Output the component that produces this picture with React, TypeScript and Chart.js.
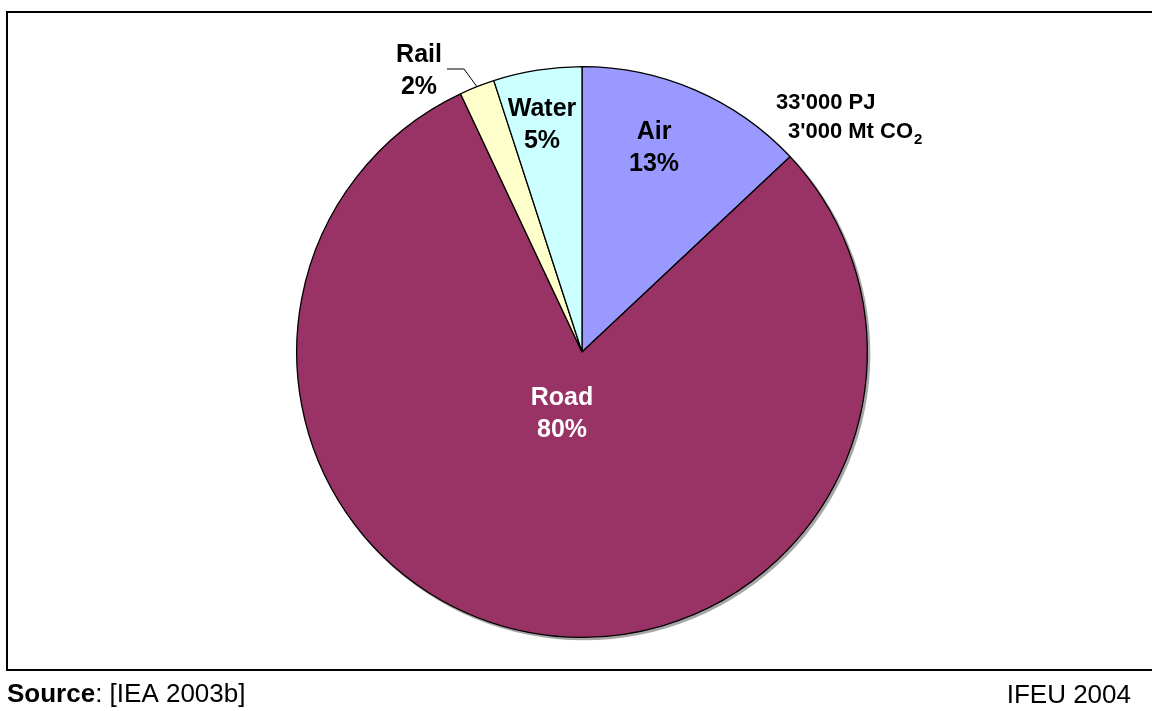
import React, { useEffect, useRef } from "react";
import { Chart, registerables } from "chart.js";
Chart.register(...registerables);

const categories = ["Air", "Road", "Rail", "Water"];
const shares = [13, 80, 2, 5];
const sliceColors = ["#9999FF", "#993366", "#FFFFCC", "#CCFFFF"];
const labelColors = ["#000000", "#FFFFFF", "#000000", "#000000"];
const totalLine1 = "33'000 PJ";
const totalLine2 = "3'000 Mt CO";
const totalSub = "2";
const sourceBold = "Source";
const sourceRest = ": [IEA 2003b]";
const creditText = "IFEU 2004";

// label anchor relative to pie centre: [dx of text centre, dy of first baseline]
const labelOffsets: number[][] = [
  [72, -213],
  [-20, 53],
  [-163, -290],
  [-40, -236],
];

const FONT = '"Liberation Sans", Arial, sans-serif';

const decor = {
  id: "decor",
  beforeDatasetsDraw(chart: any) {
    const ctx = chart.ctx;
    const arc = chart.getDatasetMeta(0).data[0];
    const { x, y, outerRadius } = arc.getProps(["x", "y", "outerRadius"], true);
    ctx.save();
    ctx.fillStyle = "rgba(0,0,0,0.35)";
    ctx.beginPath();
    ctx.arc(x + 2, y + 2, outerRadius + 1, 0, Math.PI * 2);
    ctx.fill();
    ctx.restore();
  },
  afterDatasetsDraw(chart: any) {
    const ctx = chart.ctx;
    const meta = chart.getDatasetMeta(0);
    const first = meta.data[0];
    const { x: cx, y: cy } = first.getProps(["x", "y"], true);
    ctx.save();
    // slice labels
    ctx.textAlign = "center";
    ctx.textBaseline = "alphabetic";
    ctx.font = `bold 25px ${FONT}`;
    categories.forEach((cat, i) => {
      const [dx, dy] = labelOffsets[i];
      ctx.fillStyle = labelColors[i];
      ctx.fillText(cat, cx + dx, cy + dy);
      ctx.fillText(`${shares[i]}%`, cx + dx, cy + dy + 32);
    });
    // leader line for Rail
    const rail = meta.data[2];
    const rp = rail.getProps(["startAngle", "endAngle", "outerRadius"], true);
    const mid = (rp.startAngle + rp.endAngle) / 2;
    const ex = cx + Math.cos(mid) * rp.outerRadius;
    const ey = cy + Math.sin(mid) * rp.outerRadius;
    ctx.strokeStyle = "#000";
    ctx.lineWidth = 1;
    ctx.beginPath();
    ctx.moveTo(cx - 135, cy - 283);
    ctx.lineTo(cx - 118, cy - 283);
    ctx.lineTo(ex, ey);
    ctx.stroke();
    // totals annotation
    ctx.fillStyle = "#000";
    ctx.textAlign = "left";
    ctx.font = `bold 22px ${FONT}`;
    ctx.fillText(totalLine1, cx + 194, cy - 243);
    ctx.fillText(totalLine2, cx + 206, cy - 214);
    const w2 = ctx.measureText(totalLine2).width;
    ctx.font = `bold 15px ${FONT}`;
    ctx.fillText(totalSub, cx + 206 + w2 + 1, cy - 208);
    ctx.restore();
  },
  afterDraw(chart: any) {
    const ctx = chart.ctx;
    const W = chart.width;
    ctx.save();
    ctx.strokeStyle = "#000";
    ctx.lineWidth = 2;
    ctx.beginPath();
    ctx.moveTo(7, 12);
    ctx.lineTo(W, 12);
    ctx.moveTo(7, 11);
    ctx.lineTo(7, 671);
    ctx.moveTo(6, 670);
    ctx.lineTo(W, 670);
    ctx.stroke();
    ctx.fillStyle = "#000";
    ctx.textBaseline = "alphabetic";
    ctx.textAlign = "left";
    ctx.font = `bold 26px ${FONT}`;
    ctx.fillText(sourceBold, 7, 702);
    const bw = ctx.measureText(sourceBold).width;
    ctx.font = `26px ${FONT}`;
    ctx.fillText(sourceRest, 7 + bw, 702);
    ctx.textAlign = "right";
    ctx.fillText(creditText, 1131, 703);
    ctx.restore();
  },
};

export default function App() {
  const ref = useRef<HTMLCanvasElement>(null);
  useEffect(() => {
    if (!ref.current) return;
    const chart = new Chart(ref.current, {
      type: "pie",
      data: {
        labels: categories,
        datasets: [
          {
            data: shares,
            backgroundColor: sliceColors,
            borderColor: "#000000",
            borderWidth: 1.3,
          },
        ],
      },
      options: {
        responsive: false,
        animation: false,
        devicePixelRatio: 1,
        layout: { padding: { left: 296, right: 284, top: 66, bottom: 73 } },
        plugins: {
          legend: { display: false },
          tooltip: { enabled: false },
        },
      },
      plugins: [decor],
    });
    return () => chart.destroy();
  }, []);
  return (
    <div style={{ position: "fixed", left: 0, top: 0, width: 1152, height: 711, background: "#fff" }}>
      <canvas ref={ref} width={1152} height={711} style={{ display: "block" }} />
    </div>
  );
}
